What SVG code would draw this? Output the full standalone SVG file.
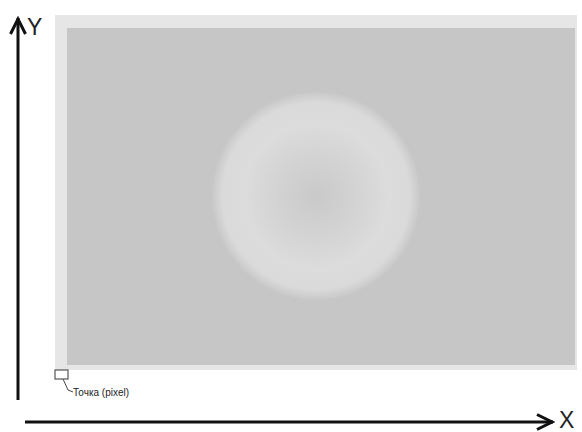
<svg xmlns="http://www.w3.org/2000/svg" width="582" height="432" viewBox="0 0 582 432">
<defs>
<radialGradient id="blob" cx="316" cy="196" r="104" gradientUnits="userSpaceOnUse">
<stop offset="0" stop-color="#c9c9c9"/>
<stop offset="0.35" stop-color="#d2d2d2"/>
<stop offset="0.7" stop-color="#dcdcdc"/>
<stop offset="0.9" stop-color="#dadada"/>
<stop offset="1" stop-color="#c8c8c8"/>
</radialGradient>
<marker id="arr" viewBox="0 0 20 18" refX="18" refY="9" markerWidth="20" markerHeight="18" markerUnits="userSpaceOnUse" orient="auto">
<path d="M2,1.5 L17,9 L2,16.5" fill="none" stroke="#111" stroke-width="3"/>
</marker>
<style>
.axis{stroke:#111;stroke-width:3;fill:none}
.lbl{font-family:"Liberation Sans",Arial,sans-serif;fill:#222}
</style>
</defs>
<rect width="582" height="432" fill="#fff"/>
<g id="image">
<rect x="55" y="15" width="522" height="355" fill="#e6e6e6"/>
<rect x="67" y="28" width="508" height="337" fill="#c6c6c6"/>
<circle cx="316" cy="196" r="104" fill="url(#blob)"/>
</g>
<g id="connectors">
<line class="axis" x1="18" y1="400" x2="18" y2="18" marker-end="url(#arr)"/>
<line class="axis" x1="25" y1="422" x2="553" y2="422" marker-end="url(#arr)"/>
<polyline points="63,379 68,390 73,392" fill="none" stroke="#444" stroke-width="1"/>
</g>
<g id="pixel">
<rect x="55" y="370" width="13" height="9" fill="#fff" stroke="#555" stroke-width="1.2"/>
<text class="lbl" x="73" y="396" font-size="10">Точка (pixel)</text>
</g>
<g id="labels">
<text class="lbl" x="27" y="35" font-size="23">Y</text>
<text class="lbl" x="559" y="428" font-size="23">X</text>
</g>
</svg>
